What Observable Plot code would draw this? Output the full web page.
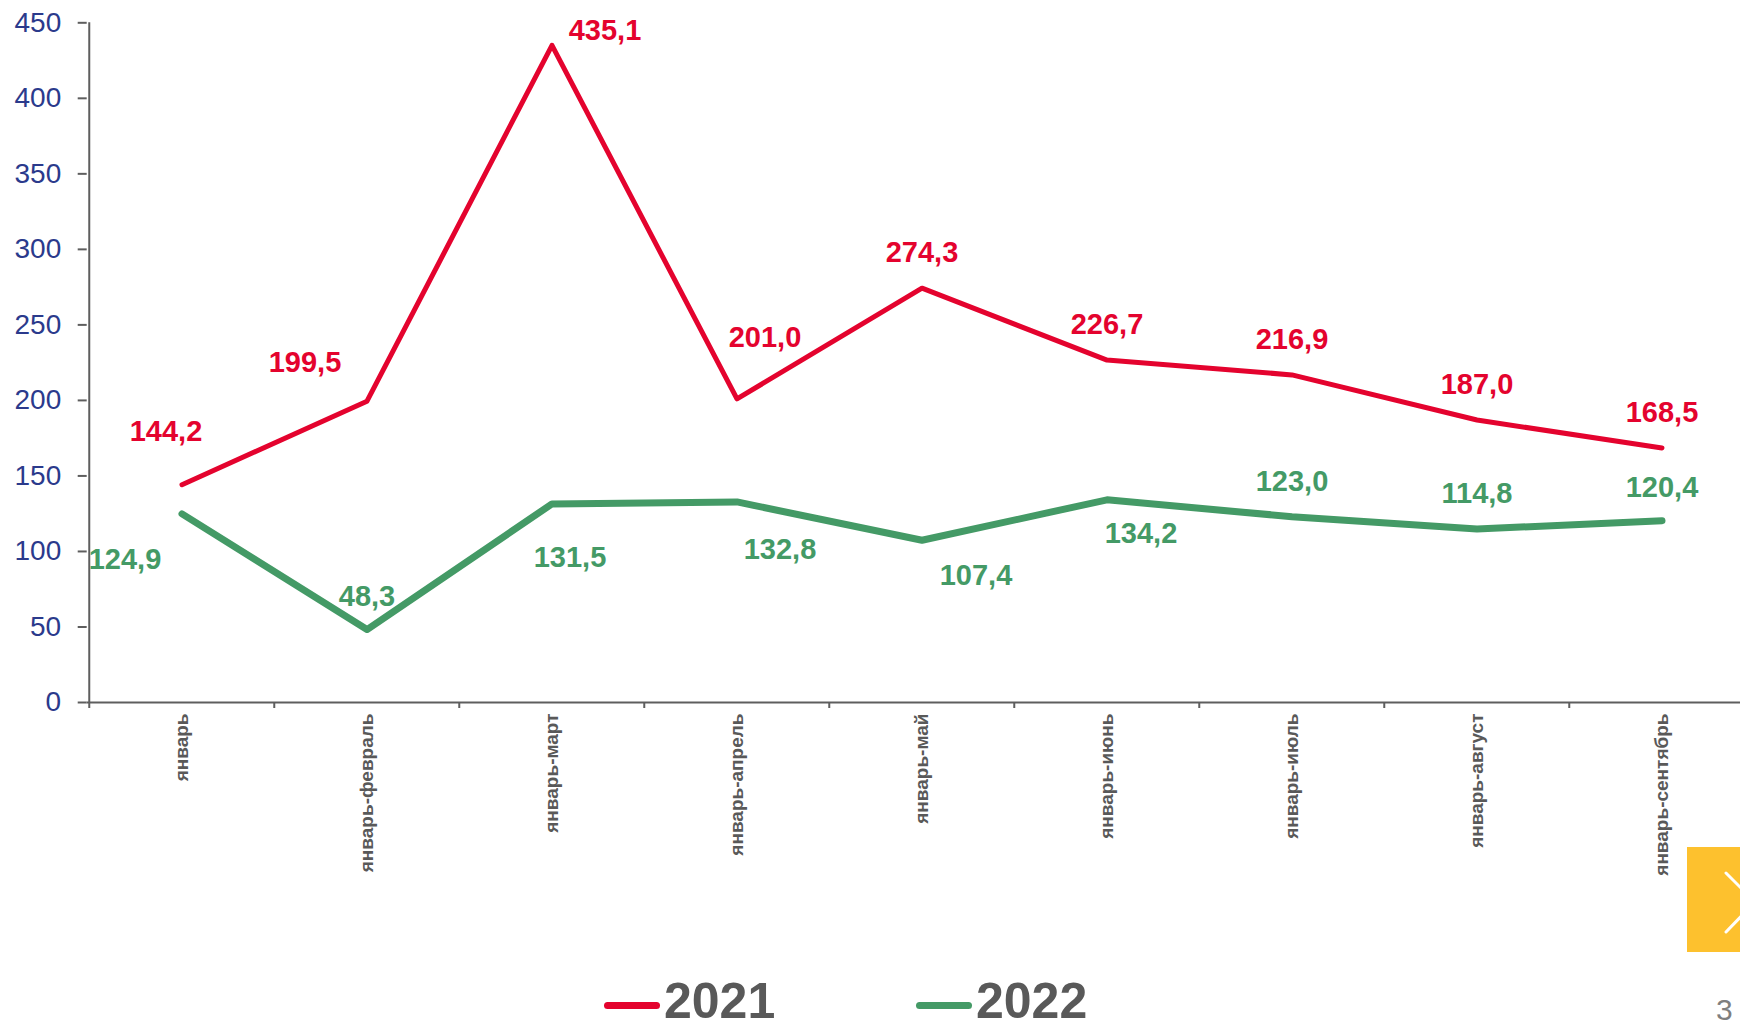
<!DOCTYPE html>
<html>
<head>
<meta charset="utf-8">
<script src="https://cdn.jsdelivr.net/npm/d3@7"></script>
<script src="https://cdn.jsdelivr.net/npm/@observablehq/plot@0.6"></script>
<style>
  html, body { margin: 0; padding: 0; background: #fff; overflow: hidden; }
  #page { position: relative; width: 1740px; height: 1029px; overflow: hidden;
          font-family: "Liberation Sans", Arial, sans-serif; }
  #chart { position: absolute; left: 0; top: 0; }
  .legend-line { position: absolute; height: 7px; border-radius: 4px; }
  .legend-text { position: absolute; font-size: 50px; line-height: 38px; font-weight: bold; color: #595959; white-space: nowrap; }
  #navbox { position: absolute; left: 1687px; top: 847px; width: 53px; height: 105px; background: #FDC12E; overflow: hidden; }
  #pagenum { position: absolute; left: 1716px; top: 1000px; font-size: 30px; line-height: 20px; color: #7F7F7F; }
</style>
</head>
<body>
<div id="page">
  <div id="chart"></div>
  <div id="legend"></div>
  <div id="navbox"><svg width="53" height="105"><polyline points="39,26 68,55 39,85" fill="none" stroke="#fff" stroke-width="3" stroke-linecap="round"/></svg></div>
  <div id="pagenum">3</div>
</div>
<script>
// ---- data ----
const categories = ["январь", "январь-февраль", "январь-март", "январь-апрель", "январь-май",
                    "январь-июнь", "январь-июль", "январь-август", "январь-сентябрь"];
const values2021 = [144.2, 199.5, 435.1, 201.0, 274.3, 226.7, 216.9, 187.0, 168.5];
const values2022 = [124.9, 48.3, 131.5, 132.8, 107.4, 134.2, 123.0, 114.8, 120.4];
const seriesNames = ["2021", "2022"];
const yTicks = [0, 50, 100, 150, 200, 250, 300, 350, 400, 450];

// ---- styling / layout ----
const RED = "#E4032E";
const GREEN = "#449A66";
const AXIS = "#5E5E5E";
const NAVY = "#2B3A8C";
const LABELGREY = "#595959";
const FONT = "Liberation Sans, Arial, sans-serif";
const xRange = [86.7, 1756];
const halfBand = (xRange[1] - xRange[0]) / categories.length / 2;

// label offsets (px) relative to each point
const off2021 = [[-16, -53], [-62, -38], [53, -15], [28, -61], [0, -35], [0, -35], [0, -35], [0, -35], [0, -35]];
const off2022 = [[-57, 46], [0, -33], [18, 54], [43, 48], [54, 35], [34, 34], [0, -35], [0, -35], [0, -33]];

const rows = categories.map((c, i) => ({category: c, v2021: values2021[i], v2022: values2022[i]}));
const fmt = v => d3.format(".1f")(v).replace(".", ",");

const labelMarks = [];
rows.forEach((r, i) => {
  labelMarks.push(Plot.text([r], {x: "category", y: "v2021", text: d => fmt(d.v2021),
    dx: off2021[i][0], dy: off2021[i][1], fill: RED, fontSize: 29, fontWeight: "bold"}));
  labelMarks.push(Plot.text([r], {x: "category", y: "v2022", text: d => fmt(d.v2022),
    dx: off2022[i][0], dy: off2022[i][1], fill: GREEN, fontSize: 29, fontWeight: "bold"}));
});

const chart = Plot.plot({
  width: 1740,
  height: 900,
  marginTop: 22.3,
  marginBottom: 198,
  marginLeft: 86.7,
  marginRight: 0,
  style: {fontFamily: FONT, background: "white", overflow: "visible"},
  x: {type: "band", domain: categories, range: xRange, padding: 0, label: null},
  y: {domain: [0, 450], label: null},
  marks: [
    Plot.ruleY([0], {stroke: AXIS, strokeWidth: 2}),
    Plot.ruleX([categories[0]], {y1: 450, y2: 0, dx: -halfBand, stroke: AXIS, strokeWidth: 2}),
    Plot.ruleX(categories, {y1: 0, y2: 0, dx: -halfBand, insetBottom: -6, stroke: AXIS, strokeWidth: 2}),
    Plot.axisY({ticks: yTicks, tickSize: 9, tickPadding: 17, fontSize: 28, fill: NAVY,
                stroke: AXIS, strokeWidth: 2, tickFormat: d => String(d), label: null}),
    Plot.axisX({tickSize: 0, tickPadding: 11, tickRotate: -90, fontSize: 19, fontWeight: "bold",
                fill: LABELGREY, label: null}),
    Plot.line(rows, {x: "category", y: "v2021", stroke: RED, strokeWidth: 5,
                     strokeLinecap: "round", strokeLinejoin: "round"}),
    Plot.line(rows, {x: "category", y: "v2022", stroke: GREEN, strokeWidth: 7,
                     strokeLinecap: "round", strokeLinejoin: "round"}),
    ...labelMarks
  ]
});
document.getElementById("chart").appendChild(chart);

// ---- legend (HTML, below the SVG) ----
const legend = document.getElementById("legend");
const legendColors = [RED, GREEN];
const legendPos = [{line: 604, text: 664}, {line: 916, text: 976}];
seriesNames.forEach((name, i) => {
  const ln = document.createElement("div");
  ln.className = "legend-line";
  ln.style.left = legendPos[i].line + "px";
  ln.style.width = "56px";
  ln.style.top = "1002px";
  ln.style.background = legendColors[i];
  legend.appendChild(ln);
  const tx = document.createElement("div");
  tx.className = "legend-text";
  tx.style.left = legendPos[i].text + "px";
  tx.style.top = "982px";
  tx.textContent = name;
  legend.appendChild(tx);
});
</script>
</body>
</html>
